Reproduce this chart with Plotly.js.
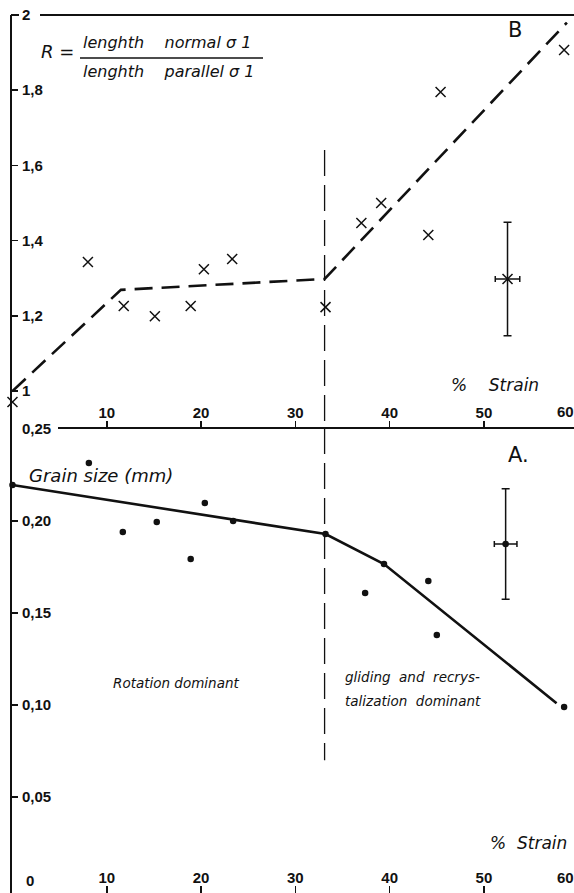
<!DOCTYPE html>
<html><head><meta charset="utf-8">
<script src="https://cdn.plot.ly/plotly-3.0.1.min.js"></script>
<style>html,body{margin:0;padding:0;overflow:hidden;background:#fff}</style>
</head><body><div id="chart" style="width:574px;height:893px"></div>
<script>
// ---------- data ----------
// Panel B: axial ratio R versus % strain
const strainB = [0, 8.0, 11.8, 15.1, 18.9, 20.3, 23.3, 33.2, 37.0, 39.1, 44.1, 45.4, 58.5];
const ratioB  = [0.971, 1.343, 1.226, 1.199, 1.226, 1.324, 1.351, 1.223, 1.447, 1.500, 1.415, 1.795, 1.907];
const trendStrainB = [0, 11.5, 33.1, 58.8];
const trendRatioB  = [1.0, 1.269, 1.298, 1.98];
const errStrainB = [52.5];
const errRatioB  = [1.298];
const errRatioBy = [0.151];
const errStrainBx = [1.3];

// Panel A: grain size (mm) versus % strain
const strainA = [0, 8.1, 11.7, 15.3, 18.9, 20.4, 23.4, 33.2, 37.4, 39.4, 44.1, 45.0, 58.5];
const grainA  = [0.2196, 0.2315, 0.194, 0.1995, 0.1793, 0.2098, 0.200, 0.1929, 0.1609, 0.1766, 0.1674, 0.138, 0.0989];
const trendStrainA = [0, 33.2, 39.4, 57.7];
const trendGrainA  = [0.2196, 0.1929, 0.1766, 0.101];
const errStrainA = [52.3];
const errGrainA  = [0.1875];
const errGrainAy = [0.030];
const errStrainAx = [1.2];

// boundary between regimes
const boundaryStrain = [33.1, 33.1];
const boundaryRatio  = [1.641, 0.9016];
const boundaryGrain  = [0.2505, 0.070];

// ticks
const tickStrain = [10, 20, 30, 40, 50];
const tickRatio = [1, 1.2, 1.4, 1.6, 1.8, 2];
const tickRatioText = ['1', '1,2', '1,4', '1,6', '1,8', '2'];
const tickGrain = [0.05, 0.10, 0.15, 0.20, 0.25];
const tickGrainText = ['0,05', '0,10', '0,15', '0,20', '0,25'];

// ---------- drawing ----------
const W = 574, H = 893, L = 12;
const fx = px => (px - L) / (W - L);
const fy = py => 1 - py / H;
const INK = '#111';
const tickFont = {family: 'Liberation Sans, Arial, sans-serif', size: 15, color: INK, weight: 'bold'};
const hand = 'DejaVu Sans, sans-serif';

const traces = [
  {x: trendStrainB, y: trendRatioB, xaxis: 'x2', yaxis: 'y2', mode: 'lines',
   line: {color: INK, width: 2.6, dash: '18px,9px'}},
  {x: boundaryStrain, y: boundaryRatio, xaxis: 'x2', yaxis: 'y2', mode: 'lines',
   line: {color: INK, width: 1.3, dash: '26px,9px'}},
  {x: strainB, y: ratioB, xaxis: 'x2', yaxis: 'y2', mode: 'markers', cliponaxis: false,
   marker: {symbol: 'x-thin-open', size: 10, color: INK, line: {width: 1.5, color: INK}}},
  {x: errStrainB, y: errRatioB, xaxis: 'x2', yaxis: 'y2', mode: 'markers', cliponaxis: false,
   marker: {symbol: 'x-thin-open', size: 10, color: INK, line: {width: 1.5, color: INK}},
   error_y: {type: 'data', array: errRatioBy, color: INK, thickness: 1.5, width: 4},
   error_x: {type: 'data', array: errStrainBx, color: INK, thickness: 1.5, width: 3}},

  {x: trendStrainA, y: trendGrainA, xaxis: 'x', yaxis: 'y', mode: 'lines',
   line: {color: INK, width: 2.6}},
  {x: boundaryStrain, y: boundaryGrain, xaxis: 'x', yaxis: 'y', mode: 'lines',
   line: {color: INK, width: 1.3, dash: '26px,9px'}},
  {x: strainA, y: grainA, xaxis: 'x', yaxis: 'y', mode: 'markers', cliponaxis: false,
   marker: {symbol: 'circle', size: 6.5, color: INK}},
  {x: errStrainA, y: errGrainA, xaxis: 'x', yaxis: 'y', mode: 'markers', cliponaxis: false,
   marker: {symbol: 'circle', size: 6.5, color: INK},
   error_y: {type: 'data', array: errGrainAy, color: INK, thickness: 1.5, width: 4},
   error_x: {type: 'data', array: errStrainAx, color: INK, thickness: 1.5, width: 3}}
];

const xCommon = {
  range: [-0.05, 59.55], tickvals: tickStrain, ticks: 'inside', ticklen: 7, tickwidth: 1.5,
  tickcolor: INK, ticklabelposition: 'inside', ticklabeloverflow: 'allow', tickfont: tickFont,
  showgrid: false, zeroline: false, showline: false
};
const yCommon = {
  ticks: 'inside', ticklen: 6, tickwidth: 1.5, tickcolor: INK, ticklabelposition: 'inside',
  ticklabeloverflow: 'allow', ticklabelstandoff: 4, tickfont: tickFont, showgrid: false, zeroline: false,
  showline: true, linewidth: 2, linecolor: INK
};

const ann = (text, px, py, size, xanchor, extra) => Object.assign({
  text: text, xref: 'paper', yref: 'paper', x: fx(px), y: fy(py), xanchor: xanchor || 'left',
  yanchor: 'middle', showarrow: false, borderpad: 0, font: {family: hand, size: size, color: INK}
}, extra || {});
const tickAnn = (text, px, py) => ann(text, px, py, 15, 'center',
  {font: {family: 'Liberation Sans, Arial, sans-serif', size: 15, color: INK, weight: 'bold'}});
const nb = '\u00A0';

const layout = {
  width: W, height: H, margin: {l: L, r: 0, t: 0, b: 0},
  paper_bgcolor: '#fff', plot_bgcolor: '#fff', showlegend: false,
  xaxis: Object.assign({}, xCommon, {anchor: 'y', domain: [0, 1]}),
  xaxis2: Object.assign({}, xCommon, {anchor: 'y2', domain: [0, 1], matches: 'x'}),
  yaxis: Object.assign({}, yCommon, {anchor: 'x', domain: [0, fy(428)], range: [-0.00217, 0.25054],
    tickvals: tickGrain, ticktext: tickGrainText}),
  yaxis2: Object.assign({}, yCommon, {anchor: 'x2', domain: [fy(428), fy(15)], range: [0.9016, 2.0],
    tickvals: tickRatio, ticktext: tickRatioText}),
  shapes: [
    {type: 'line', xref: 'paper', yref: 'paper', x0: fx(40), x1: 1, y0: fy(15), y1: fy(15), line: {color: INK, width: 2}},
    {type: 'line', xref: 'paper', yref: 'paper', x0: fx(11), x1: fx(19), y0: fy(15), y1: fy(15), line: {color: INK, width: 2}},
    {type: 'line', xref: 'paper', yref: 'paper', x0: fx(58), x1: 1, y0: fy(428), y1: fy(428), line: {color: INK, width: 2}},
    {type: 'line', xref: 'paper', yref: 'paper', x0: fx(80), x1: fx(263), y0: fy(58), y1: fy(58), line: {color: INK, width: 1.5}}
  ],
  annotations: [
    ann('<i>R =</i>', 40, 51, 18),
    ann('<i>lenghth' + nb + nb + nb + ' normal σ 1</i>', 82, 43, 16),
    ann('<i>lenghth' + nb + nb + nb + ' parallel σ 1</i>', 82, 71, 16),
    ann('B', 515, 30, 21, 'center'),
    ann('<i>%' + nb + nb + nb + ' Strain</i>', 450, 385, 17),
    tickAnn('60', 565, 412),
    ann('<i>Grain size (mm)</i>', 28, 475, 18),
    ann('A.', 507, 455, 21),
    ann('<i>Rotation dominant</i>', 112, 683, 13.5),
    ann('<i>gliding' + nb + ' and' + nb + ' recrys-</i>', 344, 677, 13.5),
    ann('<i>talization' + nb + ' dominant</i>', 344, 701, 13.5),
    ann('<i>%' + nb + ' Strain</i>', 489, 843, 17),
    tickAnn('0', 30, 880),
    tickAnn('60', 565, 877)
  ]
};

Plotly.newPlot('chart', traces, layout, {displayModeBar: false, staticPlot: true});
</script>
</body></html>
